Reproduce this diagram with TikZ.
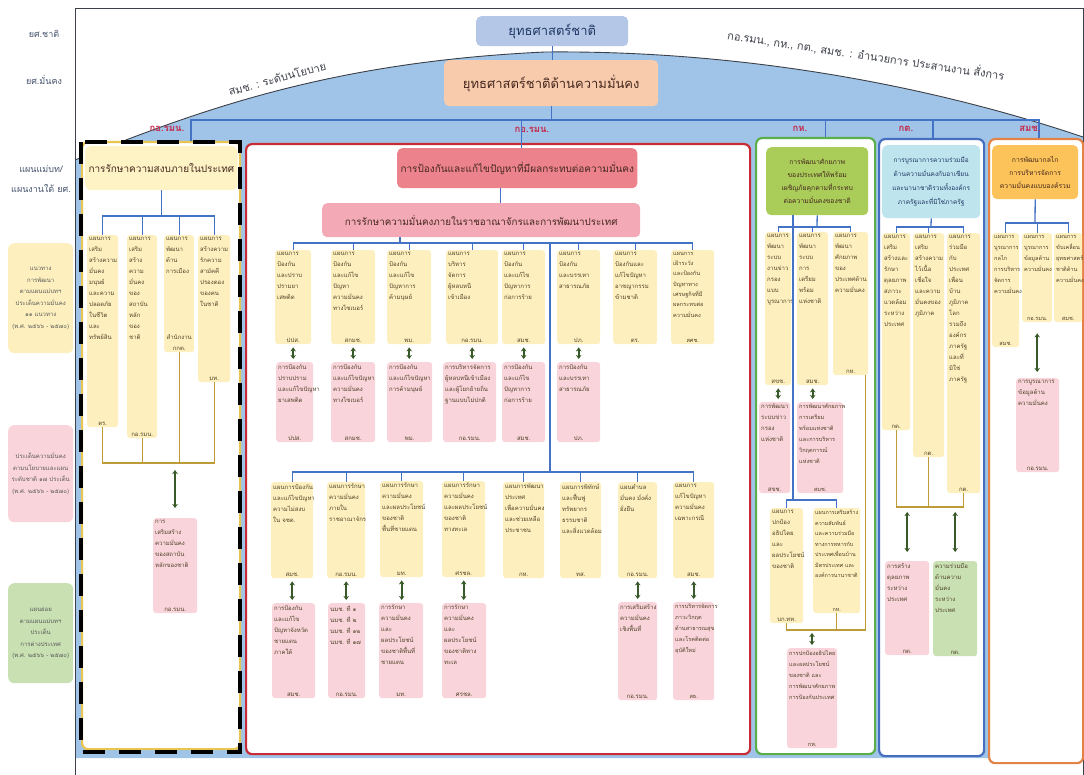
\documentclass[tikz,border=0pt]{standalone}
\usepackage{fontspec}
\setmainfont[Script=Thai]{Loma}
\usetikzlibrary{arrows.meta,calc,positioning}
\definecolor{domeblue}{RGB}{160,196,232}
\definecolor{framegray}{RGB}{60,64,72}
\definecolor{boxyellow}{RGB}{253,240,190}
\definecolor{boxpink}{RGB}{249,212,218}
\definecolor{boxgreen}{RGB}{200,224,178}
\definecolor{boxtext}{RGB}{80,66,40}
\definecolor{lineblue}{RGB}{68,114,196}
\definecolor{linegold}{RGB}{190,155,55}
\definecolor{arrowgreen}{RGB}{55,90,40}
\definecolor{panelred}{RGB}{200,45,55}
\definecolor{panelgreen}{RGB}{90,175,75}
\definecolor{panelblue}{RGB}{70,110,190}
\definecolor{panelorange}{RGB}{228,130,70}
\definecolor{panelyellow}{RGB}{232,196,80}
\definecolor{titlered}{RGB}{235,130,140}
\definecolor{titlepink}{RGB}{244,170,182}
\definecolor{titlegreen}{RGB}{170,205,90}
\definecolor{titlecyan}{RGB}{190,228,238}
\definecolor{titleorange}{RGB}{252,195,90}
\definecolor{titleyellow}{RGB}{253,243,196}
\definecolor{titletext}{RGB}{70,40,30}
\definecolor{natblue}{RGB}{180,199,231}
\definecolor{natdark}{RGB}{31,56,100}
\definecolor{natpeach}{RGB}{248,203,173}
\definecolor{labelred}{RGB}{195,40,75}
\definecolor{sidegray}{RGB}{70,84,110}
\definecolor{sidetext}{RGB}{90,90,90}
\tikzstyle{panel} = [rounded corners=6pt, fill=white, line width=2.2pt, anchor=north west]
\tikzstyle{titlebox} = [rounded corners=5pt, anchor=north west, align=center, text=titletext, font=\fontsize{8}{13}\selectfont]
\tikzstyle{ybox} = [rounded corners=3pt, fill=boxyellow, inner sep=2pt, anchor=north west, text=boxtext, font=\fontsize{6}{11}\selectfont]
\tikzstyle{pbox} = [ybox, fill=boxpink]
\tikzstyle{gbox} = [ybox, fill=boxgreen]
\tikzstyle{sidebox} = [rounded corners=6pt, anchor=north west, align=center, text=sidetext, font=\fontsize{6}{11.5}\selectfont, minimum width=65pt, inner sep=1pt]
\tikzstyle{sidelabel} = [text=sidegray, align=center, font=\fontsize{9}{20}\selectfont]
\tikzstyle{panlabel} = [text=labelred, font=\bfseries\fontsize{9.5}{11}\selectfont]
\tikzstyle{curvelabel} = [text=framegray, font=\fontsize{11}{13}\selectfont]
\tikzstyle{bline} = [draw=lineblue, line width=1.3pt]
\tikzstyle{gline} = [draw=linegold, line width=1.3pt]
\tikzstyle{dblarrow} = [draw=arrowgreen, line width=1.8pt, {Stealth[length=4pt,width=5.5pt]}-{Stealth[length=4pt,width=5.5pt]}, shorten <=3pt, shorten >=3pt]
\newcommand{\plan}[4]{\begin{minipage}[t][\dimexpr#2pt-4pt\relax]{\dimexpr#1pt-4pt\relax}\raggedright#3\par\vfill{\centering#4\par}\end{minipage}}
\begin{document}
\begin{tikzpicture}[x=1pt,y=-1pt]
\useasboundingbox (0,0) rectangle (1084,775);
% frame and dome
\fill[domeblue] (75,160) .. controls (200,110) and (330,62) .. (545,52) .. controls (760,50) and (950,92) .. (1083,137) -- (1083,758) -- (75,758) -- cycle;
\draw[framegray, line width=0.9pt] (75,160) .. controls (200,110) and (330,62) .. (545,52) .. controls (760,50) and (950,92) .. (1083,137);
\draw[framegray, line width=1pt] (75,780) -- (75,9) -- (1083,9) -- (1083,780);
\node[curvelabel, rotate=15] (cpol) at (277,78) {สมช.~:~ระดับนโยบาย};
\node[curvelabel, rotate=-8.5] (cdir) at (866,55) {กอ.รมน., กห., กต., สมช. : อำนวยการ ประสานงาน สั่งการ};
% left column
\node[sidelabel] (lnat) at (44,34) {ยศ.ชาติ};
\node[sidelabel] (lsec) at (44,80) {ยศ.มั่นคง};
\node[sidelabel] (lplan) at (41,179) {แผนแม่บท/\\แผนงานใต้ ยศ.};
\node[sidebox, fill=boxyellow, minimum height=110pt] (kyel) at (8,243) {แนวทาง\\การพัฒนา\\ตามแผนแม่บทฯ\\ประเด็นความมั่นคง\\๑๑ แนวทาง\\(พ.ศ. ๒๕๖๖ - ๒๕๗๐)};
\node[sidebox, fill=boxpink, minimum height=97pt] (kpink) at (8,425) {ประเด็นความมั่นคง\\ตามนโยบายและแผน\\ระดับชาติ ๑๗ ประเด็น\\(พ.ศ. ๒๕๖๖ - ๒๕๗๐)};
\node[sidebox, fill=boxgreen, minimum height=100pt] (kgreen) at (8,583) {แผนย่อย\\ตามแผนแม่บทฯ\\ประเด็น\\การต่างประเทศ\\(พ.ศ. ๒๕๖๖ - ๒๕๗๐)};
% top
\node[titlebox, fill=natblue, text=natdark, font=\fontsize{13}{15}\selectfont, minimum width=152pt, minimum height=30pt] (nat) at (476,16) {ยุทธศาสตร์ชาติ};
\node[titlebox, fill=natpeach, font=\fontsize{13}{15}\selectfont, minimum width=214pt, minimum height=46pt] (sec) at (444,60) {ยุทธศาสตร์ชาติด้านความมั่นคง};
\coordinate (tbar) at (551,120);
\draw[bline] (nat.south) -- (nat.south |- sec.north);
\draw[bline] (sec.south) -- (sec.south |- tbar);
% panels
\node[panel, draw=panelyellow, minimum width=158pt, minimum height=607pt] (ypanel) at (81,141) {};
\node[panel, draw=panelred, minimum width=504pt, minimum height=610pt] (rpanel) at (245,143) {};
\node[panel, draw=panelgreen, minimum width=119pt, minimum height=616pt] (gpanel) at (755,137) {};
\node[panel, draw=panelblue, minimum width=105pt, minimum height=617pt] (bpanel) at (878,138) {};
\node[panel, draw=panelorange, minimum width=94pt, minimum height=624pt] (opanel) at (988,138) {};
\draw[bline] (tbar) -| ([xshift=30pt]ypanel.north);
\draw[bline] (tbar) -| ([xshift=10pt]gpanel.north);
\draw[bline] (tbar) -| ([xshift=1.5pt]bpanel.north);
\draw[bline] (tbar) -| ([xshift=3pt]opanel.north);
\node[panlabel] (klab1) at (167,129) {กอ.รมน.};
\node[panlabel] (klab2) at (532,130) {กอ.รมน.};
\node[panlabel] (klab3) at (800,129) {กห.};
\node[panlabel] (klab4) at (906,129) {กต.};
\node[panlabel] (klab5) at (1030,129) {สมช.};
% yellow panel
\node[titlebox, fill=titleyellow, font=\fontsize{10}{12}\selectfont, minimum width=150pt, minimum height=44pt] (yt) at (85,146) {การรักษาความสงบภายในประเทศ};
\node[ybox] (ya) at (87,235) {\plan{31}{192}{แผนการ\\เสริม\\สร้างความ\\มั่นคง\\มนุษย์\\และความ\\ปลอดภัย\\ในชีวิต\\และ\\ทรัพย์สิน}{ตร.}};
\node[ybox] (yb) at (127,235) {\plan{30}{203}{แผนการ\\เสริม\\สร้าง\\ความ\\มั่นคง\\ของ\\สถาบัน\\หลัก\\ของ\\ชาติ}{กอ.รมน.}};
\node[ybox] (yc) at (164,235) {\plan{30}{117}{แผนการ\\พัฒนา\\ด้าน\\การเมือง}{สำนักงาน\\กกต.}};
\node[ybox] (yd) at (198,235) {\plan{32}{147}{แผนการ\\สร้างความ\\รักความ\\สามัคคี\\ปรองดอง\\ของคน\\ในชาติ}{มท.}};
\node[pbox] (yp) at (153,518) {\plan{44}{95}{การ\\เสริมสร้าง\\ความมั่นคง\\ของสถาบัน\\หลักของชาติ}{กอ.รมน.}};
\coordinate (ys) at (160,216);
\coordinate (yg) at (175,463);
\draw[bline] (yt.south) -- (yt.south |- ys);
\foreach \n in {ya,yb,yc,yd} \draw[bline] (ys) -| (\n.north);
\draw[gline] (ya.south) |- (yd.south |- yg) -- (yd.south);
\draw[gline] (yb.south) -- (yb.south |- yg);
\draw[gline] (yc.south) -- (yc.south |- yg);
\draw[dblarrow, shorten <=7pt, shorten >=10pt] (yg) -- (yg |- yp.north);
% red panel
\node[titlebox, fill=titlered, font=\fontsize{10}{12}\selectfont, minimum width=216pt, minimum height=40pt] (rt1) at (397,148) {การป้องกันและแก้ไขปัญหาที่มีผลกระทบต่อความมั่นคง};
\node[titlebox, fill=titlepink, font=\fontsize{9.8}{12}\selectfont, minimum width=318pt, minimum height=34pt] (rt2) at (322,203) {การรักษาความมั่นคงภายในราชอาณาจักรและการพัฒนาประเทศ};
\draw[bline] (tbar) -| ([xshift=4pt]rt1.north);
\draw[bline] ([xshift=-17pt]rt1.south) -- ([xshift=-17pt]rt1.south |- rt2.north);
\node[ybox] (r1a) at (275,250) {\plan{36}{94}{แผนการ\\ป้องกัน\\และปราบ\\ปรามยา\\เสพติด}{ปปส.}};
\node[ybox] (r1b) at (331,250) {\plan{44}{94}{แผนการ\\ป้องกัน\\และแก้ไข\\ปัญหา\\ความมั่นคง\\ทางไซเบอร์}{สกมช.}};
\node[ybox] (r1c) at (387,250) {\plan{44}{94}{แผนการ\\ป้องกัน\\และแก้ไข\\ปัญหาการ\\ค้ามนุษย์}{พม.}};
\node[ybox] (r1d) at (446,250) {\plan{52}{94}{แผนการ\\บริหาร\\จัดการ\\ผู้หลบหนี\\เข้าเมือง}{กอ.รมน.}};
\node[ybox] (r1e) at (502,250) {\plan{43}{94}{แผนการ\\ป้องกัน\\และแก้ไข\\ปัญหาการ\\ก่อการร้าย}{สมช.}};
\node[ybox] (r1f) at (557,250) {\plan{43}{94}{แผนการ\\ป้องกัน\\และบรรเทา\\สาธารณภัย}{ปภ.}};
\node[ybox] (r1g) at (613,250) {\plan{44}{94}{แผนการ\\ป้องกันและ\\แก้ไขปัญหา\\อาชญากรรม\\ข้ามชาติ}{ตร.}};
\node[ybox, font=\fontsize{5.6}{10.3}\selectfont] (r1h) at (671,250) {\plan{43}{94}{แผนการ\\เฝ้าระวัง\\และป้องกัน\\ปัญหาทาง\\เศรษฐกิจที่มี\\ผลกระทบต่อ\\ความมั่นคง}{สศช.}};
\node[pbox] (p1a) at (276,362) {\plan{37}{80}{การป้องกัน\\ปราบปราม\\และแก้ไขปัญหา\\ยาเสพติด}{ปปส.}};
\node[pbox] (p1b) at (331,362) {\plan{44}{80}{การป้องกัน\\และแก้ไขปัญหา\\ความมั่นคง\\ทางไซเบอร์}{สกมช.}};
\node[pbox] (p1c) at (387,362) {\plan{45}{80}{การป้องกัน\\และแก้ไขปัญหา\\การค้ามนุษย์}{พม.}};
\node[pbox] (p1d) at (443,362) {\plan{53}{80}{การบริหารจัดการ\\ผู้หลบหนีเข้าเมือง\\และผู้โยกย้ายถิ่น\\ฐานแบบไม่ปกติ}{กอ.รมน.}};
\node[pbox] (p1e) at (502,362) {\plan{43}{80}{การป้องกัน\\และแก้ไข\\ปัญหาการ\\ก่อการร้าย}{สมช.}};
\node[pbox] (p1f) at (557,362) {\plan{43}{80}{การป้องกัน\\และบรรเทา\\สาธารณภัย}{ปภ.}};
\coordinate (rs1) at (400,243);
\coordinate (rs2) at (550,472);
\draw[bline] (rs1 |- rt2.south) -- (rs1);
\foreach \n in {r1a,r1b,r1c,r1d,r1e,r1f,r1g,r1h} \draw[bline] (rs1) -| (\n.north);
\foreach \n/\m in {r1a/p1a,r1b/p1b,r1c/p1c,r1d/p1d,r1e/p1e,r1f/p1f} \draw[dblarrow] (\n.south) -- (\n.south |- \m.north);
\draw[bline] (rs1 -| rs2) -- (rs2);
\node[ybox] (r2a) at (271,482) {\plan{42}{96}{แผนการป้องกัน\\และแก้ไขปัญหา\\ความไม่สงบ\\ใน จชต.}{สมช.}};
\node[ybox] (r2b) at (327,482) {\plan{38}{96}{แผนการรักษา\\ความมั่นคง\\ภายใน\\ราชอาณาจักร}{กอ.รมน.}};
\node[ybox] (r2c) at (380,481) {\plan{43}{96}{แผนการรักษา\\ความมั่นคง\\และผลประโยชน์\\ของชาติ\\พื้นที่ชายแดน}{มท.}};
\node[ybox] (r2d) at (442,481) {\plan{43}{96}{แผนการรักษา\\ความมั่นคง\\และผลประโยชน์\\ของชาติ\\ทางทะเล}{ศรชล.}};
\node[ybox] (r2e) at (503,482) {\plan{41}{96}{แผนการพัฒนา\\ประเทศ\\เพื่อความมั่นคง\\และช่วยเหลือ\\ประชาชน}{กห.}};
\node[ybox] (r2f) at (560,482) {\plan{41}{96}{แผนการพิทักษ์\\และฟื้นฟู\\ทรัพยากร\\ธรรมชาติ\\และสิ่งแวดล้อม}{ทส.}};
\node[ybox] (r2g) at (618,482) {\plan{39}{96}{แผนตำบล\\มั่นคง มั่งคั่ง\\ยั่งยืน}{กอ.รมน.}};
\node[ybox] (r2h) at (673,482) {\plan{41}{96}{แผนการ\\แก้ไขปัญหา\\ความมั่นคง\\เฉพาะกรณี}{สมช.}};
\node[pbox] (p2a) at (272,603) {\plan{43}{95}{การป้องกัน\\และแก้ไข\\ปัญหาจังหวัด\\ชายแดน\\ภาคใต้}{สมช.}};
\node[pbox] (p2b) at (328,603) {\plan{37}{95}{นมช. ที่ ๑\\นมช. ที่ ๒\\นมช. ที่ ๑๒\\นมช. ที่ ๑๗}{กอ.รมน.}};
\node[pbox] (p2c) at (379,603) {\plan{44}{95}{การรักษา\\ความมั่นคง\\และ\\ผลประโยชน์\\ของชาติพื้นที่\\ชายแดน}{มท.}};
\node[pbox] (p2d) at (442,603) {\plan{44}{95}{การรักษา\\ความมั่นคง\\และ\\ผลประโยชน์\\ของชาติทาง\\ทะเล}{ศรชล.}};
\node[pbox] (p2g) at (618,602) {\plan{39}{98}{การเสริมสร้าง\\ความมั่นคง\\เชิงพื้นที่}{กอ.รมน.}};
\node[pbox, font=\fontsize{5.6}{11}\selectfont] (p2h) at (673,602) {\plan{41}{98}{การบริหารจัดการ\\ภาวะวิกฤต\\ด้านสาธารณสุข\\และโรคติดต่อ\\อุบัติใหม่}{สธ.}};
\foreach \n in {r2a,r2b,r2c,r2d,r2e,r2f,r2g,r2h} \draw[bline] (rs2) -| (\n.north);
\foreach \n/\m in {r2a/p2a,r2b/p2b,r2c/p2c,r2d/p2d,r2g/p2g,r2h/p2h} \draw[dblarrow] (\n.south) -- (\n.south |- \m.north);
% green panel
\node[titlebox, fill=titlegreen, font=\fontsize{6.8}{13}\selectfont, minimum width=102pt, minimum height=68pt] (gt) at (766,147) {การพัฒนาศักยภาพ\\ของประเทศให้พร้อม\\เผชิญภัยคุกคามที่กระทบ\\ต่อความมั่นคงของชาติ};
\node[ybox] (ga) at (765,232) {\plan{26}{153}{แผนการ\\พัฒนา\\ระบบ\\งานข่าว\\กรอง\\แบบ\\บูรณาการ}{สขช.}};
\node[ybox] (gb) at (797,232) {\plan{31}{153}{แผนการ\\พัฒนา\\ระบบ\\การ\\เตรียม\\พร้อม\\แห่งชาติ}{สมช.}};
\node[ybox] (gc) at (833,232) {\plan{35}{143}{แผนการ\\พัฒนา\\ศักยภาพ\\ของ\\ประเทศด้าน\\ความมั่นคง}{กห.}};
\node[pbox] (gpa) at (759,402) {\plan{31}{91}{การพัฒนา\\ระบบข่าว\\กรอง\\แห่งชาติ}{สขช.}};
\node[pbox, font=\fontsize{5.6}{11}\selectfont] (gpb) at (797,402) {\plan{46}{91}{การพัฒนาศักยภาพ\\การเตรียม\\พร้อมแห่งชาติ\\และการบริหาร\\วิกฤตการณ์\\แห่งชาติ}{สมช.}};
\node[ybox] (gc1) at (770,508) {\plan{33}{115}{แผนการ\\ปกป้อง\\อธิปไตย\\และ\\ผลประโยชน์\\ของชาติ}{บก.ทท.}};
\node[ybox, font=\fontsize{5.4}{10.5}\selectfont] (gc2) at (813,508) {\plan{47}{105}{แผนการเสริมสร้าง\\ความสัมพันธ์\\และความร่วมมือ\\ทางการทหารกับ\\ประเทศเพื่อนบ้าน\\มิตรประเทศ และ\\องค์การนานาชาติ}{กห.}};
\node[pbox, font=\fontsize{5.6}{11}\selectfont] (gp) at (787,648) {\plan{50}{100}{การปกป้องอธิปไตย\\และผลประโยชน์\\ของชาติ และ\\การพัฒนาศักยภาพ\\การป้องกันประเทศ}{กห.}};
\coordinate (gs) at (817,227);
\coordinate (gl) at (793,500);
\coordinate (gg) at (812,630);
\draw[bline] (gt.south) -- (gs);
\foreach \n in {ga,gb,gc} \draw[bline] (gs) -| (\n.north);
\draw[bline] (gl |- gt.south) -- (gl);
\draw[bline] (gl) -| (gc1.north);
\draw[bline] (gl) -| (gc2.north);
\draw[dblarrow] (ga.south) -- (ga.south |- gpa.north);
\draw[dblarrow] (gb.south) -- (gb.south |- gpb.north);
\draw[gline] ([xshift=-3pt]gc.south east) |- (gc1.south |- gg) -- (gc1.south);
\draw[gline] (gc2.south) -- (gc2.south |- gg);
\draw[dblarrow] (gg) -- (gg |- gp.north);
% blue panel
\node[titlebox, fill=titlecyan, text=natdark, font=\fontsize{6.5}{14}\selectfont, minimum width=98pt, minimum height=73pt] (bt) at (882,145) {การบูรณาการความร่วมมือ\\ด้านความมั่นคงกับอาเซียน\\และนานาชาติรวมทั้งองค์กร\\ภาครัฐและที่มิใช่ภาครัฐ};
\node[ybox] (ba) at (882,233) {\plan{28}{197}{แผนการ\\เสริม\\สร้างและ\\รักษา\\ดุลยภาพ\\สภาวะ\\แวดล้อม\\ระหว่าง\\ประเทศ}{กต.}};
\node[ybox] (bb) at (913,233) {\plan{31}{224}{แผนการ\\เสริม\\สร้างความ\\ไว้เนื้อ\\เชื่อใจ\\และความ\\มั่นคงของ\\ภูมิภาค}{กต.}};
\node[ybox] (bc) at (947,233) {\plan{33}{260}{แผนการ\\ร่วมมือ\\กับ\\ประเทศ\\เพื่อน\\บ้าน\\ภูมิภาค\\โลก\\รวมถึง\\องค์กร\\ภาครัฐ\\และที่\\มิใช่\\ภาครัฐ}{กต.}};
\node[pbox] (bp) at (885,561) {\plan{44}{94}{การสร้าง\\ดุลยภาพ\\ระหว่าง\\ประเทศ}{กต.}};
\node[gbox] (bq) at (933,561) {\plan{44}{95}{ความร่วมมือ\\ด้านความ\\มั่นคง\\ระหว่าง\\ประเทศ}{กต.}};
\coordinate (bs) at (931,227);
\coordinate (bg) at (930,507);
\draw[bline] (bt.south) -- (bs);
\foreach \n in {ba,bb,bc} \draw[bline] (bs) -| (\n.north);
\draw[gline] (ba.south) |- (bc.south |- bg) -- (bc.south);
\draw[gline] (bb.south) -- (bb.south |- bg);
\draw[dblarrow, shorten <=5pt, shorten >=9pt] (bp.north |- bg) -- (bp.north);
\draw[dblarrow, shorten <=5pt, shorten >=9pt] (bq.north |- bg) -- (bq.north);
% orange panel
\node[titlebox, fill=titleorange, font=\fontsize{6.8}{13}\selectfont, minimum width=86pt, minimum height=54pt] (ot) at (992,145) {การพัฒนากลไก\\การบริหารจัดการ\\ความมั่นคงแบบองค์รวม};
\node[ybox, font=\fontsize{5.6}{11}\selectfont] (oa) at (992,233) {\plan{27}{114}{แผนการ\\บูรณาการ\\กลไก\\การบริหาร\\จัดการ\\ความมั่นคง}{สมช.}};
\node[ybox, font=\fontsize{5.6}{11}\selectfont] (ob) at (1022,233) {\plan{30}{89}{แผนการ\\บูรณาการ\\ข้อมูลด้าน\\ความมั่นคง}{กอ.รมน.}};
\node[ybox, font=\fontsize{5.6}{11}\selectfont] (oc) at (1054,233) {\plan{28}{89}{แผนการ\\ขับเคลื่อน\\ยุทธศาสตร์\\ชาติด้าน\\ความมั่นคง}{สมช.}};
\node[pbox] (op) at (1016,378) {\plan{43}{94}{การบูรณาการ\\ข้อมูลด้าน\\ความมั่นคง}{กอ.รมน.}};
\coordinate (os) at (1035,223);
\draw[bline] (ot.south) -- (os);
\foreach \n in {oa,ob,oc} \draw[bline] (os) -| (\n.north);
\draw[dblarrow, shorten <=11pt, shorten >=6pt] (ob.south) -- (ob.south |- op.north);
% dashed mark round the first panel
\draw[black, line width=4.5pt, dash pattern=on 22pt off 14pt] (81,142) rectangle (240,752);
\end{tikzpicture}
\end{document}
